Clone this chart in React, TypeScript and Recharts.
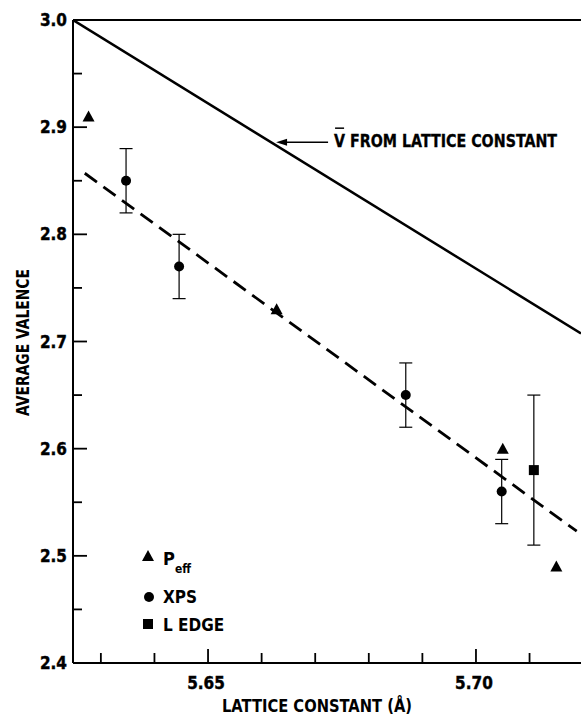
import React from 'react';
import {
  ComposedChart,
  Line,
  Scatter,
  ErrorBar,
  XAxis,
  YAxis,
  ReferenceLine,
  Label,
} from 'recharts';

// values (lattice constant in Å, average valence)
const peffX = [5.6277, 5.6628, 5.705, 5.715];
const peffY = [2.91, 2.73, 2.6, 2.49];
const xpsX = [5.6347, 5.6446, 5.6869, 5.7048];
const xpsY = [2.85, 2.77, 2.65, 2.56];
const xpsErr = [0.03, 0.03, 0.03, 0.03];
const lEdgeX = [5.7108];
const lEdgeY = [2.58];
const lEdgeErr = [0.07];
const latticeLineX = [5.6248, 5.7196];
const latticeLineY = [3.0, 2.7075];
const fitLineX = [5.627, 5.7188];
const fitLineY = [2.857, 2.523];

const xTicks = [5.63, 5.64, 5.65, 5.66, 5.67, 5.68, 5.69, 5.7, 5.71];
const xMajor = [5.65, 5.7];
const yTicks = [2.4, 2.45, 2.5, 2.55, 2.6, 2.65, 2.7, 2.75, 2.8, 2.85, 2.9, 2.95, 3.0];
const yMajor = [2.4, 2.5, 2.6, 2.7, 2.8, 2.9, 3.0];

// arrow annotation: tip on the lattice line, tail where the text starts
const arrowX = [5.6627, 5.6724];
const arrowY = 2.886;

const FONT = "'DejaVu Sans Condensed', 'DejaVu Sans', sans-serif";

const zip = (xs: number[], ys: number[], errs?: number[]) =>
  xs.map((x, i) => ({ x, y: ys[i], ...(errs ? { err: errs[i] } : {}) }));

const peffData = zip(peffX, peffY);
const xpsData = zip(xpsX, xpsY, xpsErr);
const lEdgeData = zip(lEdgeX, lEdgeY, lEdgeErr);
const latticeLine = zip(latticeLineX, latticeLineY);
const fitLine = zip(fitLineX, fitLineY);

const isMajor = (list: number[], v: number) => list.some((m) => Math.abs(m - v) < 1e-6);

const Triangle = (p: any) => (
  <polygon
    points={`${p.cx},${p.cy - 6} ${p.cx + 6},${p.cy + 5} ${p.cx - 6},${p.cy + 5}`}
    fill="#000"
  />
);
const Dot = (p: any) => <circle cx={p.cx} cy={p.cy} r={5} fill="#000" />;
const Square = (p: any) => <rect x={p.cx - 5} y={p.cy - 5} width={10} height={10} fill="#000" />;

const YTick = (props: any) => {
  const { x, y, payload } = props;
  const major = isMajor(yMajor, payload.value);
  return (
    <g>
      <line x1={x} y1={y} x2={x + (major ? 14 : 9)} y2={y} stroke="#000" strokeWidth={1.8} />
      {major && (
        <text x={x - 6} y={y + 6} textAnchor="end" fontFamily={FONT} fontWeight="bold" fontSize={17} fill="#000" stroke="#000" strokeWidth={0.4}>
          {payload.value.toFixed(1)}
        </text>
      )}
    </g>
  );
};

const XTick = (props: any) => {
  const { x, y, payload } = props;
  const major = isMajor(xMajor, payload.value);
  return (
    <g>
      <line x1={x} y1={y} x2={x} y2={y - (major ? 14 : 10)} stroke="#000" strokeWidth={1.8} />
      {major && (
        <text x={x - 2} y={y + 26} textAnchor="middle" fontFamily={FONT} fontWeight="bold" fontSize={17} fill="#000" stroke="#000" strokeWidth={0.4}>
          {payload.value.toFixed(2)}
        </text>
      )}
    </g>
  );
};

const ArrowNote = (p: any) => {
  const { x1, y1, x2, y2 } = p;
  const left = Math.min(x1, x2);
  const right = Math.max(x1, x2);
  return (
    <g>
      <line x1={left + 8} y1={y1} x2={right} y2={y2} stroke="#000" strokeWidth={1.5} />
      <polygon points={`${left},${y1} ${left + 11},${y1 - 3.5} ${left + 11},${y1 + 3.5}`} fill="#000" />
      <line x1={right + 7} y1={y1 - 14} x2={right + 16} y2={y1 - 14} stroke="#000" strokeWidth={1.5} />
      <text
        x={right + 6}
        y={y1 + 5}
        fontFamily={FONT}
        fontWeight="bold"
        fontSize={17}
        fill="#000"
        stroke="#000"
        strokeWidth={0.3}
        textLength={223}
        lengthAdjust="spacingAndGlyphs"
      >
        V FROM LATTICE CONSTANT
      </text>
    </g>
  );
};

// legend drawn as an overlay so it does not take space from the plot
const LegendBox = () => (
  <svg width={130} height={92} style={{ display: 'block' }}>
    <polygon points="10,6 16,17 4,17" fill="#000" />
    <text x={25} y={21} fontFamily={FONT} fontWeight="bold" fontSize={18} fill="#000">P</text>
    <text x={37} y={29} fontFamily={FONT} fontWeight="bold" fontSize={12} fill="#000">eff</text>
    <circle cx={11} cy={53} r={5} fill="#000" />
    <text x={25} y={59} fontFamily={FONT} fontWeight="bold" fontSize={17} fill="#000">XPS</text>
    <rect x={5} y={75} width={10} height={10} fill="#000" />
    <text x={25} y={87} fontFamily={FONT} fontWeight="bold" fontSize={17} fill="#000">L EDGE</text>
  </svg>
);

export default function App() {
  return (
    <div style={{ position: 'absolute', left: 0, top: 0, width: 581, height: 715, background: '#fff' }}>
      <ComposedChart width={581} height={715} margin={{ top: 20, right: 0, bottom: 0, left: 0 }}>
        <XAxis
          dataKey="x"
          type="number"
          domain={[5.6248, 5.7196]}
          allowDataOverflow
          ticks={xTicks}
          interval={0}
          tickSize={0}
          tickMargin={0}
          tickLine={false}
          tick={<XTick />}
          height={52}
          axisLine={{ stroke: '#000', strokeWidth: 2 }}
        >
          <Label
            content={(p: any) => (
              <text
                x={p.viewBox.x + 244}
                y={p.viewBox.y + 49}
                textAnchor="middle"
                fontFamily={FONT}
                fontWeight="bold"
                fontSize={18}
                fill="#000"
                textLength={190}
                lengthAdjust="spacingAndGlyphs"
              >
                LATTICE CONSTANT (Å)
              </text>
            )}
          />
        </XAxis>
        <YAxis
          dataKey="y"
          type="number"
          domain={[2.4, 3.0]}
          allowDataOverflow
          ticks={yTicks}
          interval={0}
          tickSize={0}
          tickMargin={0}
          tickLine={false}
          tick={<YTick />}
          width={73}
          axisLine={{ stroke: '#000', strokeWidth: 2 }}
        >
          <Label
            content={(p: any) => {
              const cx = p.viewBox.x + 29;
              const cy = p.viewBox.y + p.viewBox.height / 2 + 1;
              return (
                <text
                  x={cx}
                  y={cy}
                  transform={`rotate(-90, ${cx}, ${cy})`}
                  textAnchor="middle"
                  fontFamily={FONT}
                  fontWeight="bold"
                  fontSize={18}
                  fill="#000"
                  textLength={147}
                  lengthAdjust="spacingAndGlyphs"
                >
                  AVERAGE VALENCE
                </text>
              );
            }}
          />
        </YAxis>
        <ReferenceLine y={3.0} stroke="#000" strokeWidth={2} />
        <ReferenceLine
          segment={[
            { x: arrowX[0], y: arrowY },
            { x: arrowX[1], y: arrowY },
          ]}
          shape={<ArrowNote />}
        />
        <Line
          data={latticeLine}
          dataKey="y"
          type="linear"
          stroke="#000"
          strokeWidth={2.5}
          dot={false}
          activeDot={false}
          isAnimationActive={false}
        />
        <Line
          data={fitLine}
          dataKey="y"
          type="linear"
          stroke="#000"
          strokeWidth={2.8}
          strokeDasharray="15 8"
          dot={false}
          activeDot={false}
          isAnimationActive={false}
        />
        <Scatter data={xpsData} dataKey="y" shape={<Dot />} isAnimationActive={false}>
          <ErrorBar dataKey="err" direction="y" width={6.5} stroke="#000" strokeWidth={1.2} />
        </Scatter>
        <Scatter data={lEdgeData} dataKey="y" shape={<Square />} isAnimationActive={false}>
          <ErrorBar dataKey="err" direction="y" width={6.5} stroke="#000" strokeWidth={1.2} />
        </Scatter>
        <Scatter data={peffData} dataKey="y" shape={<Triangle />} isAnimationActive={false} />
      </ComposedChart>
      <div style={{ position: 'absolute', left: 138, top: 544 }}>
        <LegendBox />
      </div>
    </div>
  );
}
